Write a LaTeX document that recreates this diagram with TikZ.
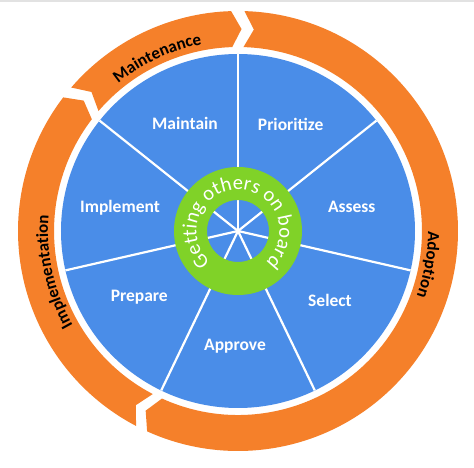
\documentclass[tikz,border=0pt]{standalone}
\usepackage{fontspec}
\setmainfont{Carlito}
\usetikzlibrary{decorations.text}
\definecolor{wheelblue}{RGB}{74,141,232}
\definecolor{ringorange}{RGB}{245,128,42}
\definecolor{ringgreen}{RGB}{128,210,40}
\definecolor{topgray}{RGB}{226,226,226}
\newcommand{\orangearrow}[2]{%
  \fill[ringorange] (#1:220) arc[start angle=#1, end angle=#2+2.8, radius=220]
    -- (#2:202) -- (#2+2.8:184) arc[start angle=#2+2.8, end angle=#1, radius=184]
    -- (#1-2.8:202) -- cycle;}
\begin{document}
\begin{tikzpicture}[x=1pt,y=1pt,
  lab/.style={text=white,font=\fontsize{17.5}{20}\selectfont\bfseries,anchor=base,inner sep=0pt},
  spoke/.style={white,line width=2.2pt},
  ringtext/.style={decorate,decoration={text along path,text align=center,
     text={|\fontsize{17}{20}\selectfont\bfseries\color{black}|#1}}}]
\useasboundingbox (-238,-237) rectangle (236,231);
\fill[white] (-238,-237) rectangle (236,231);
\fill[topgray] (-238,229) rectangle (236,231);
% orange cycle arrows
\orangearrow{88.3}{-117.2}
\orangearrow{139.3}{89.0}
\orangearrow{242.4}{139.8}
% blue wheel
\fill[wheelblue] (0,0) circle[radius=177];
\coordinate (c) at (0,0);
\foreach \a in {0,...,6} \draw[spoke] (c) -- (90-\a*51.42857:177);
% green ring
\fill[ringgreen,even odd rule] (0,0) circle[radius=64] (0,0) circle[radius=31];
\path[decorate,decoration={text along path,text align=center,
   text={|\fontsize{20.5}{22}\selectfont\color{white}|Getting others on board}}]
   (269:41.5) arc[start angle=269,end angle=-89,radius=41.5];
% sector labels
\node[lab] (maintain) at (-53,101.5) {Maintain};
\node[lab] (prioritize) at (52.7,100.5) {Prioritize};
\node[lab] (assess) at (113.7,18.8) {Assess};
\node[lab] (select) at (92,-75.2) {Select};
\node[lab] (approve) at (-3,-119.5) {Approve};
\node[lab] (prepare) at (-98.7,-70.5) {Prepare};
\node[lab] (implement) at (-118,18.8) {Implement};
% ring labels
\path[ringtext={Maintenance}] (155:190) arc[start angle=155,end angle=75,radius=190];
\path[ringtext={Adoption}] (30:190) arc[start angle=30,end angle=-50,radius=190];
\path[ringtext={Implementation}] (235:190) arc[start angle=235,end angle=150,radius=190];
\end{tikzpicture}
\end{document}
